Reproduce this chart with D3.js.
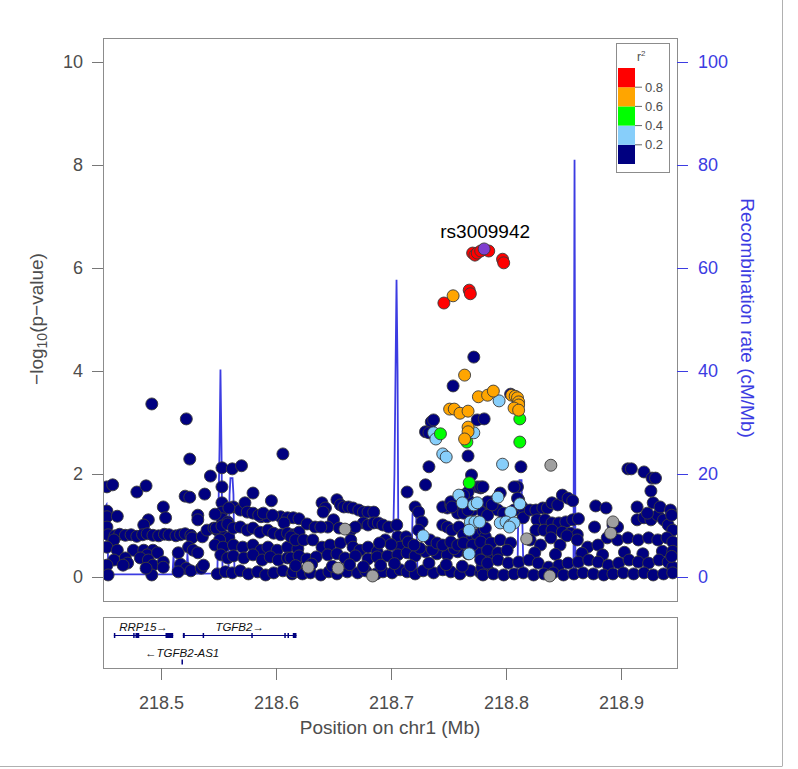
<!DOCTYPE html>
<html><head><meta charset="utf-8">
<script src="https://cdn.jsdelivr.net/npm/d3@7"></script>
<style>body{margin:0;background:#fff}text{font-family:"Liberation Sans",Arial,Helvetica,sans-serif}</style>
</head><body>
<svg id="c" width="798" height="769"></svg>
<script>
// ---------------- data ----------------
const xTicks = [218.5, 218.6, 218.7, 218.8, 218.9];
const yTicks = [0, 2, 4, 6, 8, 10];
const recTicks = [0, 20, 40, 60, 80, 100];
const legendBreaks = [0.2, 0.4, 0.6, 0.8];
const leadSnp = {name: "rs3009942", pos: 218.781, logp: 6.37};

// r2 >= 0.8
const redSnps = [[218.746,5.32],[218.768,5.57],[218.769,5.50],[218.771,6.29],[218.773,6.25],[218.775,6.29],[218.778,6.33],[218.785,6.33],[218.797,6.17],[218.798,6.10]];
// 0.6 - 0.8
const orangeSnps = [[218.754,5.46],[218.764,3.92],[218.776,3.50],[218.784,3.53],[218.789,3.61],[218.805,3.53],[218.808,3.51],[218.810,3.48],[218.811,3.40],[218.811,3.34],[218.807,3.28],[218.811,3.24],[218.751,3.26],[218.755,3.26],[218.760,3.18],[218.767,3.22],[218.767,2.91],[218.767,2.82],[218.764,2.68]];
// 0.4 - 0.6
const greenSnps = [[218.812,3.07],[218.743,2.78],[218.766,2.62],[218.812,2.62],[218.768,1.83]];
// 0.2 - 0.4
const lightBlueSnps = [[218.794,3.42],[218.772,2.80],[218.737,2.80],[218.739,2.68],[218.745,2.39],[218.748,2.33],[218.797,2.19],[218.759,1.59],[218.762,1.44],[218.772,1.40],[218.775,1.44],[218.793,1.55],[218.804,1.26],[218.812,1.42],[218.795,1.05],[218.800,1.07],[218.804,1.01],[218.807,1.05],[218.803,0.97],[218.769,1.07],[218.773,1.07],[218.777,1.07],[218.768,0.91],[218.728,0.80],[218.768,0.45]];
// no LD information
const graySnps = [[218.839,2.17],[218.818,0.74],[218.660,0.93],[218.684,0.02],[218.628,0.19],[218.654,0.17],[218.893,1.07],[218.891,0.85],[218.838,0.02]];
// r2 < 0.2
const navySnps = [
[218.492,3.36],[218.522,3.07],[218.525,2.29],[218.606,2.39],[218.553,2.12],[218.562,2.10],[218.570,2.16],[218.543,1.96],[218.453,1.75],[218.458,1.79],[218.479,1.65],[218.487,1.77],[218.521,1.57],[218.525,1.55],[218.538,1.61],[218.553,1.75],[218.580,1.63],[218.596,1.48],[218.502,1.36],[218.504,1.15],[218.453,1.28],[218.453,1.17],[218.462,1.18],[218.489,1.11],[218.485,1.01],[218.532,1.20],[218.532,1.11],[218.553,1.44],[218.553,1.26],[218.553,1.13],[218.547,1.22],[218.563,1.36],[218.569,1.30],[218.573,1.44],[218.575,1.26],[218.580,1.24],[218.587,1.17],[218.592,1.17],[218.604,1.17],[218.610,1.15],[218.615,1.15],[218.607,1.05],[218.558,1.07],[218.453,0.97],
[218.454,0.82],[218.460,0.80],[218.464,0.83],[218.469,0.81],[218.474,0.82],[218.479,0.79],[218.484,0.82],[218.488,0.84],[218.493,0.81],[218.498,0.80],[218.503,0.83],[218.507,0.82],[218.513,0.80],[218.517,0.82],[218.521,0.84],[218.526,0.81],[218.527,0.76],[218.459,0.72],
[218.536,0.78],[218.540,0.91],[218.546,0.95],[218.549,0.91],[218.554,0.80],[218.559,0.76],[218.551,0.72],
[218.453,0.58],[218.462,0.52],[218.476,0.52],[218.485,0.52],[218.493,0.52],[218.488,0.43],[218.497,0.47],[218.515,0.47],[218.524,0.58],[218.528,0.52],[218.532,0.47],
[218.459,0.33],[218.469,0.37],[218.471,0.27],[218.482,0.37],[218.489,0.33],[218.493,0.23],[218.502,0.29],[218.502,0.19],[218.453,0.23],[218.467,0.23],[218.517,0.25],[218.522,0.17],[218.526,0.12],[218.535,0.17],[218.537,0.23],
[218.454,0.04],[218.492,0.04],[218.515,0.10],[218.487,0.17],
[218.559,1.34],[218.585,1.20],[218.589,1.24],[218.597,1.20],[218.620,1.13],
[218.548,0.95],[218.553,0.99],[218.558,1.03],[218.563,0.95],[218.569,0.97],[218.575,0.91],[218.580,0.95],[218.586,0.87],[218.593,0.91],[218.598,0.85],[218.604,0.82],[218.610,0.85],[218.615,0.82],[218.620,0.87],
[218.547,0.62],[218.554,0.58],[218.563,0.62],[218.571,0.58],[218.580,0.62],[218.587,0.52],[218.593,0.58],[218.601,0.52],[218.610,0.58],[218.619,0.55],
[218.552,0.43],[218.558,0.37],[218.563,0.41],[218.572,0.37],[218.580,0.43],[218.588,0.33],[218.595,0.39],[218.602,0.33],[218.610,0.37],[218.619,0.35],
[218.549,0.06],[218.556,0.10],[218.562,0.08],[218.569,0.12],[218.576,0.06],[218.584,0.10],[218.591,0.04],[218.598,0.08],[218.606,0.12],[218.614,0.06],[218.620,0.10],
[218.627,1.03],[218.634,0.97],[218.640,1.44],[218.643,1.34],[218.641,1.26],[218.653,1.50],[218.656,1.40],[218.650,1.11],[218.645,0.97],[218.639,0.97],
[218.659,1.36],[218.663,1.36],[218.667,1.34],[218.672,1.30],[218.676,1.26],[218.680,1.26],[218.685,1.26],
[218.676,1.05],[218.680,1.01],[218.685,1.05],[218.689,1.05],[218.693,1.01],[218.698,0.97],[218.705,1.01],
[218.655,0.95],[218.665,0.91],[218.669,0.97],
[218.613,0.78],[218.617,0.72],[218.624,0.72],[218.632,0.72],[218.640,0.58],[218.647,0.62],[218.656,0.66],[218.665,0.72],[218.667,0.58],[218.673,0.52],[218.680,0.58],[218.688,0.49],[218.695,0.72],[218.706,0.78],[218.708,0.58],
[218.613,0.37],[218.620,0.41],[218.627,0.35],[218.635,0.39],[218.645,0.43],[218.653,0.45],[218.660,0.37],[218.669,0.41],[218.680,0.35],[218.688,0.39],[218.697,0.41],[218.706,0.43],[218.714,0.47],[218.721,0.41],[218.730,0.49],[218.740,0.45],[218.749,0.43],[218.758,0.49],[218.767,0.45],[218.775,0.49],[218.784,0.43],
[218.615,0.10],[218.623,0.06],[218.630,0.08],[218.639,0.04],[218.646,0.10],[218.653,0.06],[218.662,0.10],[218.671,0.08],[218.678,0.12],[218.687,0.06],[218.693,0.10],[218.701,0.08],[218.708,0.14],[218.714,0.10],[218.721,0.06],[218.728,0.12],[218.737,0.08],[218.745,0.14],[218.752,0.10],[218.760,0.06],[218.769,0.12],[218.778,0.08],[218.784,0.14],
[218.617,0.22],[218.631,0.25],[218.649,0.21],[218.664,0.24],[218.676,0.20],[218.691,0.23],[218.703,0.26],[218.717,0.22],[218.733,0.27],[218.748,0.24],[218.762,0.21],[218.779,0.18],
[218.725,0.56],[218.736,0.53],[218.755,0.55],[218.769,0.57],[218.700,0.63],[218.690,0.66],
[218.721,1.36],[218.724,1.26],[218.727,1.07],[218.724,0.91],[218.713,0.78],[218.715,0.68],[218.720,0.62],[218.745,1.01],[218.749,0.97],[218.753,0.91],[218.749,1.34],[218.745,1.36],[218.752,1.40],[218.758,1.24],[218.763,1.24],[218.771,1.30],[218.780,1.26],[218.784,1.20],[218.759,0.97],[218.763,0.82],[218.771,0.76],[218.775,0.82],[218.780,0.91],[218.782,0.78],
[218.734,0.72],[218.740,0.66],[218.745,0.62],[218.752,0.68],[218.758,0.62],[218.763,0.66],[218.771,0.62],[218.778,0.68],
[218.752,1.46],[218.753,1.36],[218.767,1.50],[218.775,1.75],[218.778,1.73],[218.767,1.65],[218.763,1.59],[218.767,1.30],[218.784,1.44],[218.788,1.46],[218.793,1.30],[218.798,1.24],[218.810,1.75],[218.811,1.50],[218.815,1.17],[218.807,1.30],
[218.772,4.27],[218.754,3.71],[218.804,3.55],[218.775,3.05],[218.781,3.07],[218.735,3.01],[218.737,3.05],[218.730,2.82],[218.733,2.80],[218.767,2.35],[218.813,2.14],[218.733,2.14],[218.730,1.79],[218.714,1.65],[218.770,1.98],[218.778,1.75],
[218.780,1.75],[218.795,1.63],[218.807,1.75],[218.810,1.53],[218.814,1.36],[218.784,1.46],[218.788,1.40],[218.815,1.15],[218.782,0.95],
[218.821,1.30],[218.826,1.30],[218.832,1.34],[218.836,1.34],[218.840,1.44],[218.845,1.40],[218.849,1.59],[218.854,1.53],[218.858,1.48],
[218.827,1.11],[218.834,1.11],[218.840,1.05],[218.846,1.05],[218.852,1.07],[218.858,1.11],[218.863,1.13],
[218.826,0.91],[218.833,0.91],[218.840,0.91],[218.849,0.87],[218.856,0.85],[218.862,0.82],
[218.878,1.38],[218.887,1.34],[218.877,0.97],[218.893,1.01],[218.897,0.97],
[218.914,1.11],[218.920,1.15],[218.926,1.11],[218.932,1.20],[218.937,1.11],[218.941,1.01],[218.945,0.91],[218.914,1.36],[218.923,1.24],[218.928,1.44],[218.934,1.36],
[218.906,2.10],[218.909,2.10],[218.920,2.04],[218.927,1.92],[218.930,1.92],[218.926,1.67],
[218.787,0.66],[218.795,0.72],[218.804,0.66],[218.784,0.52],[218.793,0.47],[218.801,0.52],
[218.821,0.72],[218.830,0.62],[218.839,0.76],[218.847,0.62],[218.853,0.80],[218.862,0.72],[218.871,0.58],[218.880,0.62],[218.888,0.76],[218.897,0.72],[218.906,0.76],[218.915,0.72],[218.924,0.76],[218.932,0.72],[218.940,0.76],[218.945,0.68],
[218.825,0.47],[218.843,0.44],[218.866,0.46],[218.884,0.43],[218.903,0.48],[218.919,0.45],[218.936,0.50],
[218.778,0.33],[218.784,0.27],[218.793,0.33],[218.802,0.27],[218.811,0.29],[218.820,0.33],[218.828,0.27],[218.837,0.19],[218.846,0.23],[218.854,0.27],[218.863,0.29],[218.872,0.33],[218.880,0.29],[218.889,0.23],[218.898,0.27],[218.907,0.33],[218.915,0.29],[218.924,0.27],[218.933,0.33],[218.941,0.29],[218.945,0.19],
[218.780,0.04],[218.789,0.06],[218.798,0.04],[218.807,0.06],[218.815,0.08],[218.824,0.04],[218.833,0.06],[218.841,0.08],[218.850,0.04],[218.859,0.06],[218.867,0.08],[218.876,0.06],[218.885,0.04],[218.893,0.06],[218.902,0.08],[218.911,0.06],[218.920,0.08],[218.928,0.04],[218.937,0.06],[218.945,0.08],
[218.943,1.30],[218.944,1.20],[218.945,0.50],[218.944,0.40]
];

// recombination rate (cM/Mb)
const recombRate = [[218.450,13],[218.4526,14],[218.4543,1.0],[218.456,0.5],[218.510,0.5],[218.5109,4.2],[218.5117,0.6],[218.5222,0.6],[218.523,4.6],[218.5239,0.6],[218.549,0.7],[218.5509,25],[218.5517,40.3],[218.5526,25],[218.5535,0.8],[218.5587,0.8],[218.5596,16],[218.5604,19.2],[218.5622,19.2],[218.563,16],[218.5639,0.6],[218.7013,0.5],[218.703,20],[218.7048,57.7],[218.7057,40],[218.7065,0.6],[218.7178,0.6],[218.7187,12],[218.7196,14.4],[218.7213,14.4],[218.7222,10],[218.723,0.5],[218.810,0.5],[218.8109,17],[218.8117,18.8],[218.8135,18.8],[218.8143,10],[218.8152,0.5],[218.8587,0.5],[218.8596,81],[218.8604,0.5],[218.95,0.4]];

// genes
const genes = [
  {name:"RRP15", strand:"+", row:0, start:218.459, end:218.5106,
   exons:[[218.459,218.4594],[218.4758,218.4764],[218.4778,218.4782],[218.4788,218.4792],[218.4798,218.4802],[218.5039,218.5106]]},
  {name:"TGFB2", strand:"+", row:0, start:218.519, end:218.6178,
   exons:[[218.519,218.5207],[218.5362,218.5366],[218.5785,218.5789],[218.6072,218.6078],[218.6100,218.6108],[218.6146,218.6178]]},
  {name:"TGFB2-AS1", strand:"-", row:1, start:218.5178, end:218.519,
   exons:[[218.5178,218.519]]}
];

// ---------------- drawing ----------------
const svg = d3.select("#c");
const box = {l:103, r:677, t:38, b:601};
const gbox = {t:617, b:668};
const x = d3.scaleLinear().domain([218.5, 218.9]).range([161, 621]);
const y = d3.scaleLinear().domain([0, 10]).range([577, 62]);
const yr = d3.scaleLinear().domain([0, 100]).range([577, 62]);
const blue = "#3c3ce2", grayTxt = "#4d4d4d";

svg.append("defs").append("clipPath").attr("id","clip").append("rect")
  .attr("x",box.l).attr("y",box.t).attr("width",box.r-box.l).attr("height",box.b-box.t);

// page frame
svg.append("line").attr("x1",782.5).attr("x2",782.5).attr("y1",0).attr("y2",766).attr("stroke","#b0b0b0");
svg.append("line").attr("x1",0).attr("x2",782.5).attr("y1",766.5).attr("y2",766.5).attr("stroke","#b0b0b0");

// recombination line
svg.append("path").datum(recombRate)
  .attr("d", d3.line().x(d=>x(d[0])).y(d=>yr(d[1])))
  .attr("fill","none").attr("stroke",blue).attr("stroke-width",1.8)
  .attr("clip-path","url(#clip)");

// points
const groups = [
  {data:navySnps, fill:"#000080"},
  {data:graySnps, fill:"#a0a0a0"},
  {data:lightBlueSnps, fill:"#87cefa"},
  {data:greenSnps, fill:"#00ff00"},
  {data:orangeSnps, fill:"#ffa500"},
  {data:redSnps, fill:"#ff0000"},
  {data:[[leadSnp.pos, leadSnp.logp]], fill:"#7f3fcf"}
];
const gp = svg.append("g").attr("clip-path","url(#clip)");
groups.forEach(g => {
  gp.selectAll(null).data(g.data).enter().append("circle")
    .attr("cx", d=>x(d[0])).attr("cy", d=>y(d[1])).attr("r", 6)
    .attr("fill", g.fill).attr("stroke", "#3a3a3a").attr("stroke-width", 0.9);
});

// lead label
svg.append("text").attr("x", x(leadSnp.pos)+1).attr("y", y(leadSnp.logp)-11)
  .attr("text-anchor","middle").attr("font-size",19).attr("fill","#000").text(leadSnp.name);

// main box
svg.append("rect").attr("x",box.l+0.5).attr("y",box.t+0.5).attr("width",box.r-box.l).attr("height",box.b-box.t)
  .attr("fill","none").attr("stroke","#8c8c8c");

// left axis
const ax = svg.append("g").attr("transform",`translate(${box.l},0)`)
  .call(d3.axisLeft(y).tickValues(yTicks).tickSize(11).tickPadding(9).tickFormat(d3.format("d")));
ax.select(".domain").remove();
ax.selectAll(".tick line").attr("stroke","#777");
ax.selectAll(".tick text").attr("font-size",18).attr("fill",grayTxt).attr("font-family",null);

// right axis
const ar = svg.append("g").attr("transform",`translate(${box.r},0)`)
  .call(d3.axisRight(yr).tickValues(recTicks).tickSize(11).tickPadding(10).tickFormat(d3.format("d")));
ar.select(".domain").remove();
ar.selectAll(".tick line").attr("stroke",blue);
ar.selectAll(".tick text").attr("font-size",18).attr("fill",blue).attr("font-family",null);

// axis titles
const lt = svg.append("text").attr("transform","translate(43,319) rotate(-90)")
  .attr("text-anchor","middle").attr("font-size",19).attr("fill",grayTxt);
lt.append("tspan").text("\u2212log");
lt.append("tspan").attr("font-size",14).attr("dy",4).text("10");
lt.append("tspan").attr("dy",-4).text("(p\u2212value)");

svg.append("text").attr("transform","translate(741,318) rotate(90)")
  .attr("text-anchor","middle").attr("font-size",19).attr("fill",blue)
  .text("Recombination rate (cM/Mb)");

// legend
const lg = svg.append("g");
lg.append("rect").attr("x",616.5).attr("y",43.5).attr("width",53).attr("height",129)
  .attr("fill","#fff").attr("stroke","#8c8c8c");
const legColors = ["#000080","#87cefa","#00ff00","#ffa500","#ff0000"];
const ly = d3.scaleLinear().domain([0,1]).range([164,68]);
const legEdges = [0].concat(legendBreaks).concat([1]);
legColors.forEach((c,i) => {
  lg.append("rect").attr("x",618).attr("width",17)
    .attr("y", ly(legEdges[i+1])).attr("height", ly(legEdges[i]) - ly(legEdges[i+1]))
    .attr("fill", c);
});
legendBreaks.forEach(b => {
  lg.append("line").attr("x1",635).attr("x2",642).attr("y1",ly(b)).attr("y2",ly(b)).attr("stroke","#666");
  lg.append("text").attr("x",645).attr("y",ly(b)).attr("dy","0.35em").attr("font-size",13)
    .attr("fill",grayTxt).text(d3.format(".1f")(b));
});
const rt = lg.append("text").attr("x",637).attr("y",61).attr("font-size",12).attr("fill",grayTxt);
rt.append("tspan").text("r");
rt.append("tspan").attr("font-size",8).attr("dy",-5).text("2");

// gene panel
svg.append("rect").attr("x",box.l+0.5).attr("y",gbox.t+0.5).attr("width",box.r-box.l).attr("height",gbox.b-gbox.t)
  .attr("fill","none").attr("stroke","#8c8c8c");
const rowLineY = [635.5, 662];
const rowLabelY = [631, 657];
const geneCol = "#000080";
genes.forEach(g => {
  const gy = rowLineY[g.row];
  if (x(g.end) - x(g.start) > 2) {
    svg.append("line").attr("x1",x(g.start)).attr("x2",x(g.end)).attr("y1",gy).attr("y2",gy)
      .attr("stroke",geneCol).attr("stroke-width",1);
  }
  g.exons.forEach(e => {
    const w = Math.max(1.5, x(e[1]) - x(e[0]));
    svg.append("rect").attr("x",x(e[0])).attr("width",w).attr("y",gy-2.5).attr("height",5).attr("fill",geneCol);
  });
  const label = g.strand === "+" ? g.name + "\u2192" : "\u2190" + g.name;
  svg.append("text").attr("x",(x(g.start)+x(g.end))/2).attr("y",rowLabelY[g.row])
    .attr("text-anchor","middle").attr("font-size",11.5).attr("font-style","italic")
    .attr("fill","#111").text(label);
});

// x axis
const axb = svg.append("g").attr("transform",`translate(0,${gbox.b})`)
  .call(d3.axisBottom(x).tickValues(xTicks).tickSize(12).tickFormat(d3.format(".1f")));
axb.select(".domain").remove();
axb.selectAll(".tick line").attr("stroke","#777");
axb.selectAll(".tick text").attr("font-size",18).attr("fill",grayTxt).attr("font-family",null)
  .attr("y",41).attr("dy",0);
svg.append("text").attr("x",(box.l+box.r)/2).attr("y",734).attr("text-anchor","middle")
  .attr("font-size",19).attr("fill",grayTxt).text("Position on chr1 (Mb)");
</script>
</body></html>
